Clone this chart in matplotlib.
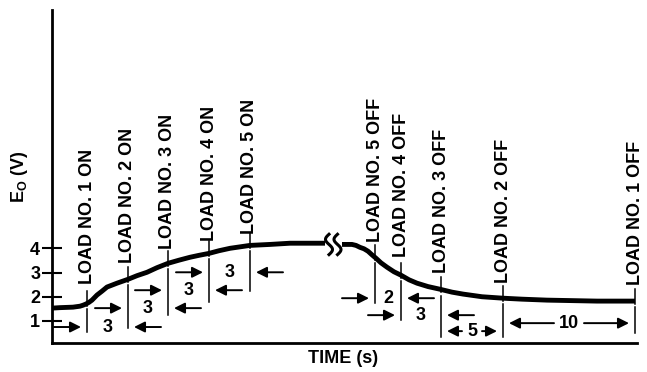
import numpy as np
import matplotlib
matplotlib.use("Agg")
import matplotlib.pyplot as plt

plt.rcParams["font.family"] = ["Liberation Sans", "DejaVu Sans"]
plt.rcParams["font.weight"] = "bold"
plt.rcParams["mathtext.fontset"] = "custom"
plt.rcParams["mathtext.rm"] = "Liberation Sans:bold"
plt.rcParams["mathtext.it"] = "Liberation Sans:bold"
plt.rcParams["mathtext.bf"] = "Liberation Sans:bold"

# horizontal position along the (broken) time axis, output voltage in V
rise_x = [0, 8, 21, 28, 31, 34, 37, 40, 45, 50, 55, 65, 76, 85, 95, 105, 116, 127, 138, 147, 157, 167, 178, 188, 198,
          218, 238, 273]
rise_v = [1.53, 1.55, 1.57, 1.61, 1.65, 1.70, 1.77, 1.86, 2.07, 2.23, 2.40, 2.56, 2.72, 2.87, 3.01, 3.20, 3.38, 3.51,
          3.63, 3.71, 3.79, 3.90, 4.00, 4.06, 4.12, 4.16, 4.21, 4.21]
fall_x = [290, 300, 304, 308, 312, 316, 320, 324, 329, 335, 342, 349, 357, 365, 376, 388, 400, 411, 430, 451, 470, 495, 545, 583]
fall_v = [4.16, 4.16, 4.12, 4.04, 3.98, 3.88, 3.73, 3.59, 3.40, 3.22, 3.03, 2.89, 2.70, 2.56, 2.42, 2.31, 2.19, 2.11,
          2.00, 1.94, 1.90, 1.86, 1.82, 1.82]

on_x = [35, 76, 116, 157, 198]
on_labels = ["LOAD NO. 1 ON", "LOAD NO. 2 ON", "LOAD NO. 3 ON", "LOAD NO. 4 ON", "LOAD NO. 5 ON"]
on_label_top = [8.12, 8.98, 9.56, 9.88, 10.17]
on_line_end = [0.54, 0.71, 1.24, 1.78, 2.23]
on_gap_s = ["3", "3", "3", "3"]
on_gap_v = [0.75, 1.53, 2.27, 3.01]

off_x = [323, 349, 389, 451, 583]
off_labels = ["LOAD NO. 5 OFF", "LOAD NO. 4 OFF", "LOAD NO. 3 OFF", "LOAD NO. 2 OFF", "LOAD NO. 1 OFF"]
off_label_top = [10.21, 9.60, 8.94, 8.53, 8.44]
off_line_end = [1.74, 1.04, 0.34, 0.34, 0.50]
off_gap_s = ["2", "3", "5", "10"]
off_gap_v = [1.94, 1.24, 0.58, 0.91]
off_inside = [False, False, True, True]

yticks = [1, 2, 3, 4]
break_x = [277, 285.5]
break_v = 4.16


def arrow(ax, tail, tip, v):
    ax.annotate("", xy=(tip, v), xytext=(tail, v),
                arrowprops=dict(arrowstyle="-|>", color="black", lw=1.4, mutation_scale=16,
                                shrinkA=0, shrinkB=0))


def dimension(ax, x1, x2, v, label, inside=False):
    mid = (x1 + x2) / 2.0
    ax.text(mid, v, label, ha="center", va="center", fontsize=13, fontweight="bold")
    if inside:
        hw = 5 + 5 * len(label)
        arrow(ax, mid - hw, x1 + 6, v)
        arrow(ax, mid + hw, x2 - 6, v)
    else:
        arrow(ax, x1 - 33, x1 - 6, v)
        arrow(ax, x2 + 33, x2 + 6, v)


def event(ax, x, curve_x, curve_v, label, top, end):
    v = np.interp(x, curve_x, curve_v)
    ax.plot([x, x], [v + 0.5, v - 0.12], color="black", lw=1.1)
    ax.plot([x, x], [v - 0.25, end], color="black", lw=1.1)
    ax.text(x, top, label, rotation=90, ha="center", va="top", fontsize=13, fontweight="bold")


fig = plt.figure(figsize=(6.47, 3.72), dpi=100)
ax = fig.add_axes([52 / 647, 1 - 343 / 372, 585 / 647, 333 / 372])
ax.set_xlim(0, 585)
ax.set_ylim(0.09, 13.84)

ax.plot(rise_x, rise_v, color="black", lw=3.5, solid_capstyle="butt", solid_joinstyle="round")
ax.plot(fall_x, fall_v, color="black", lw=3.5, solid_capstyle="butt", solid_joinstyle="round")

# break marks
t = np.linspace(0, 1, 40)
for bx in break_x:
    ax.plot(bx - 3.5 * np.sin(2 * np.pi * t), break_v + 0.42 - 0.84 * t, color="black", lw=2.2)

for i in range(5):
    event(ax, on_x[i], rise_x, rise_v, on_labels[i], on_label_top[i], on_line_end[i])
    event(ax, off_x[i], fall_x, fall_v, off_labels[i], off_label_top[i], off_line_end[i])

for i in range(4):
    dimension(ax, on_x[i], on_x[i + 1], on_gap_v[i], on_gap_s[i])
    dimension(ax, off_x[i], off_x[i + 1], off_gap_v[i], off_gap_s[i], off_inside[i])

for side in ["top", "right"]:
    ax.spines[side].set_visible(False)
ax.spines["left"].set_linewidth(2)
ax.spines["bottom"].set_linewidth(2)

ax.set_xticks([])
ax.set_yticks(yticks)
ax.tick_params(axis="y", direction="inout", length=14, width=1.5, labelsize=13, pad=1.5)
for lab in ax.get_yticklabels():
    lab.set_fontweight("bold")

ax.text(-0.056, 0.498, r"$\mathrm{E_O}$ (V)", transform=ax.transAxes, rotation=90,
        ha="center", va="center", fontsize=13, fontweight="bold")
ax.text(0.498, -0.048, "TIME (s)", transform=ax.transAxes, ha="center", va="center",
        fontsize=13, fontweight="bold")

fig.savefig("out.png", dpi=100)
